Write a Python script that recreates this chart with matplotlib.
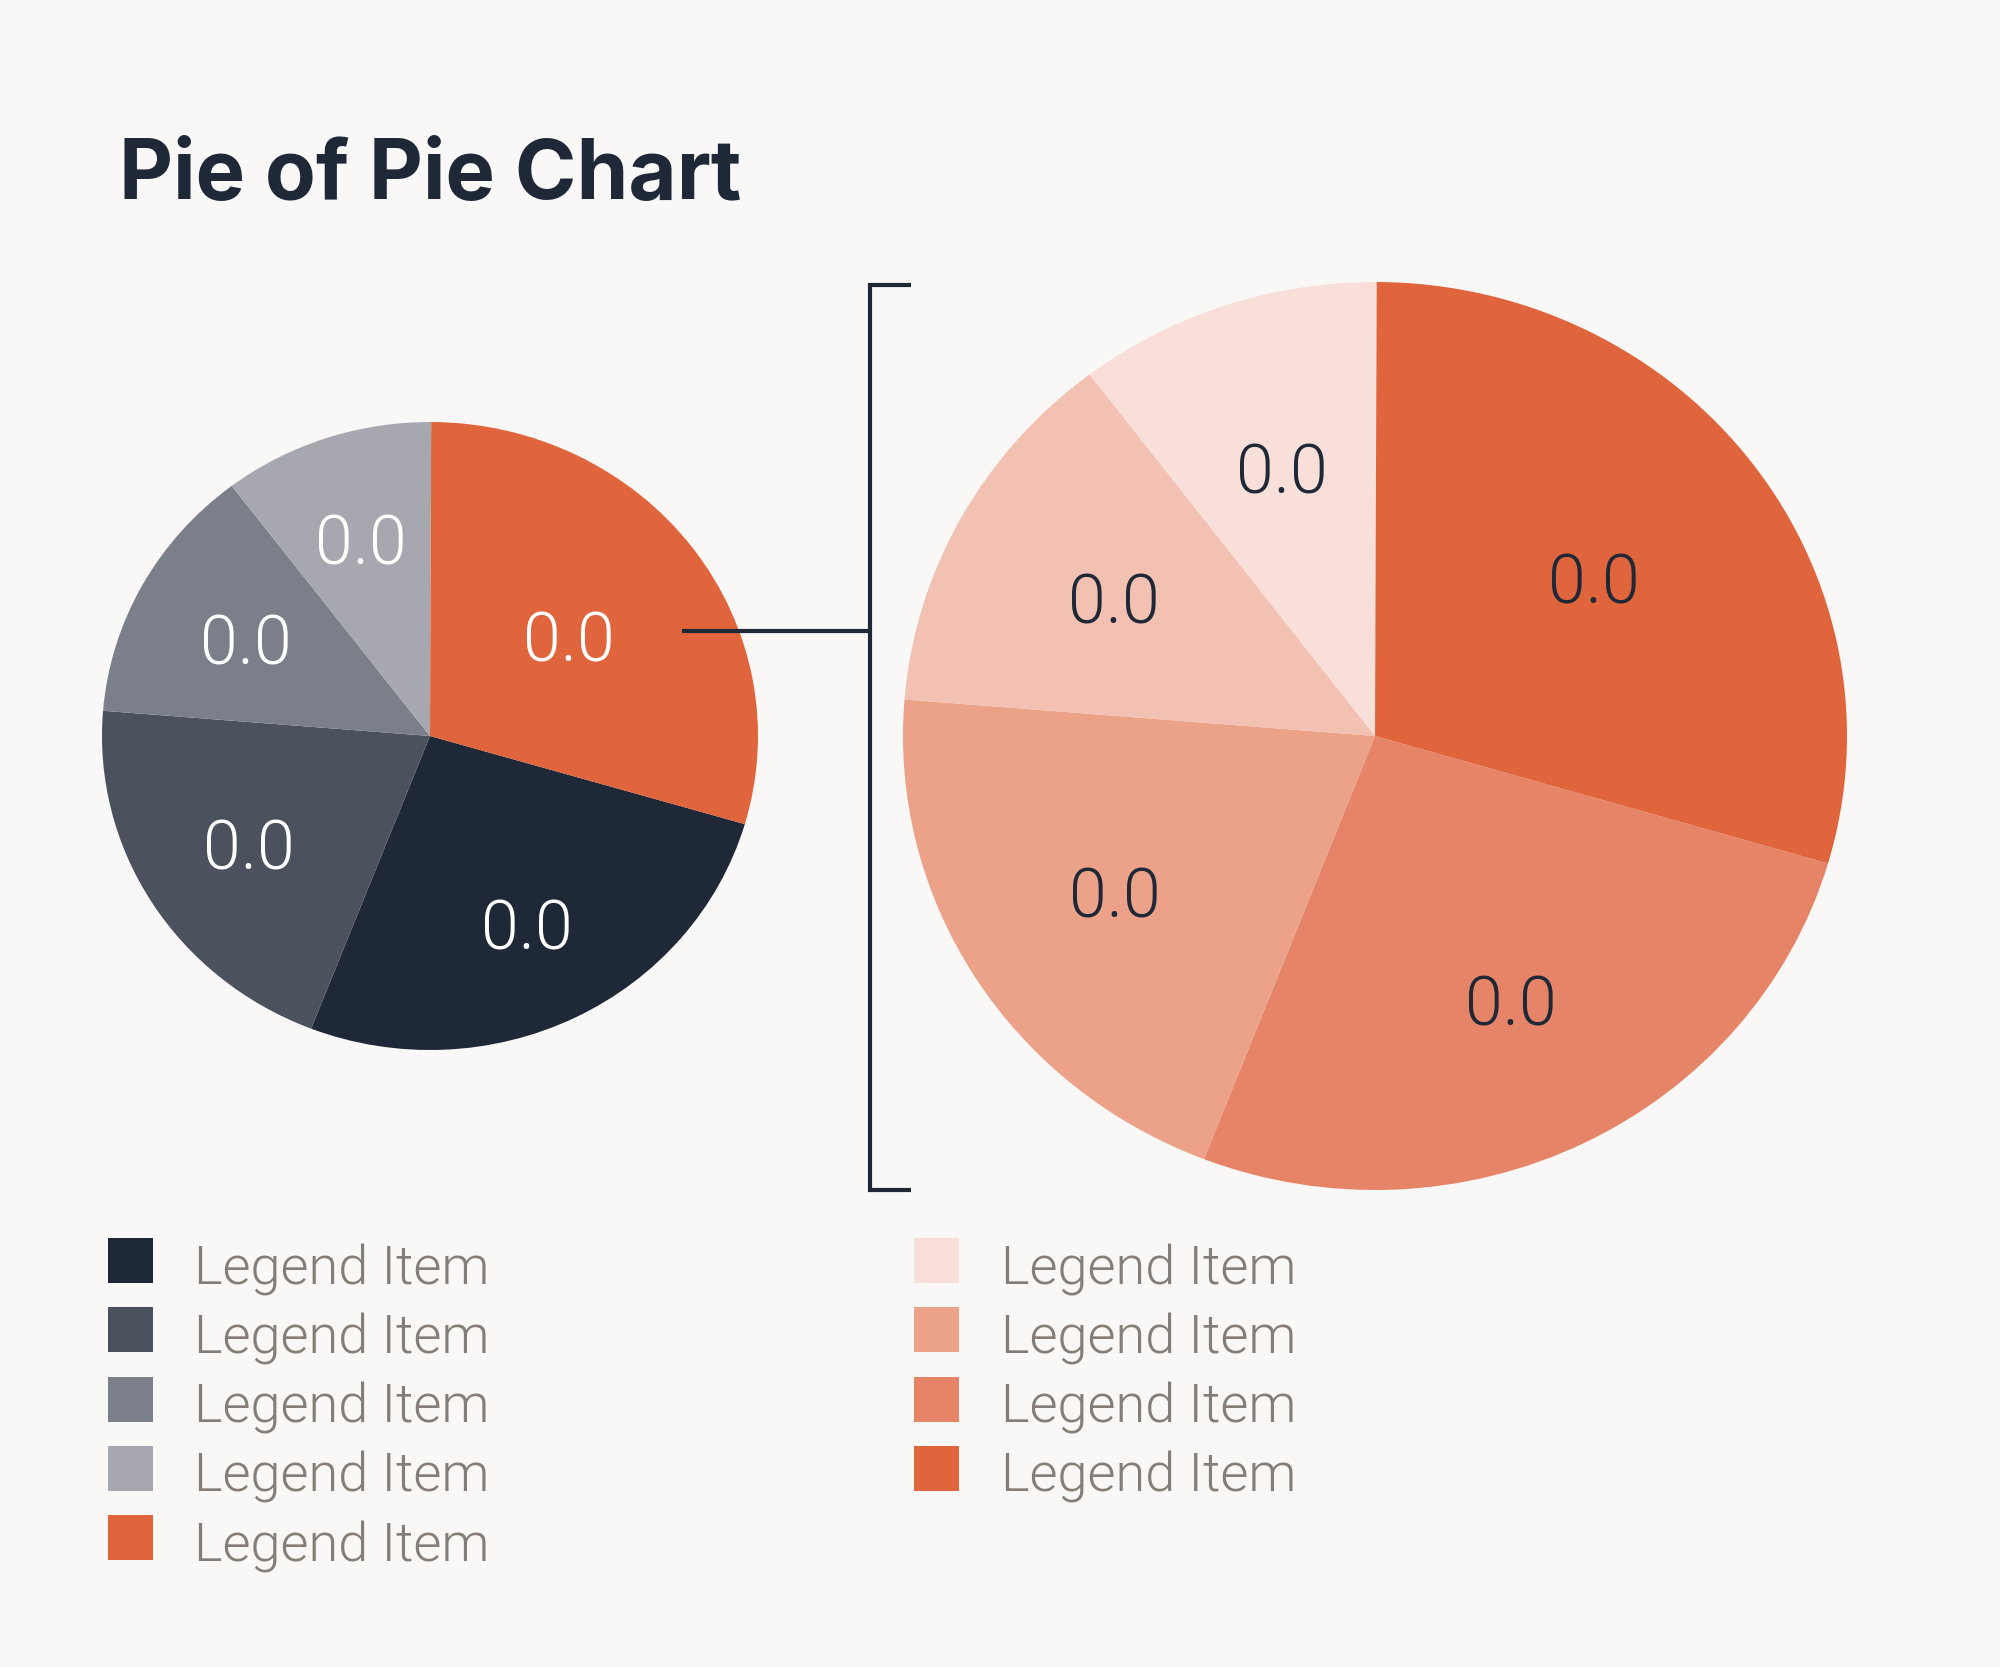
import numpy as np
import matplotlib
matplotlib.use('Agg')
import matplotlib.pyplot as plt
from matplotlib.patches import Rectangle

# data
main_values = [26.4, 20.4, 13.4, 10.4, 29.5]
main_colors = ['#1f2837', '#4b515d', '#7a7f89', '#a7a7af', '#e0643c']
main_labels = ['0.0', '0.0', '0.0', '0.0', '0.0']

detail_values = [26.4, 20.4, 13.4, 10.4, 29.5]
detail_colors = ['#e68468', '#eca189', '#f2c1b2', '#f9dfd9', '#e0643c']
detail_labels = ['0.0', '0.0', '0.0', '0.0', '0.0']

legend_left = ['Legend Item'] * 5
legend_left_colors = ['#1f2837', '#4b515d', '#7a7f89', '#a7a7af', '#e0643c']
legend_right = ['Legend Item'] * 4
legend_right_colors = ['#f9dfd9', '#eca189', '#e68468', '#e0643c']

bg = '#f9f8f6'
W, H = 2000, 1667
fig = plt.figure(figsize=(10, 8.335), dpi=200, facecolor=bg)


def add_pie(cx, cy, rx, ry, values, colors, labels, txtcolor, label_r):
    ax = fig.add_axes([(cx - rx) / W, (H - cy - ry) / H, 2 * rx / W, 2 * ry / H])
    wedges, _ = ax.pie(values, colors=colors, startangle=-16.3, counterclock=False,
                       wedgeprops=dict(linewidth=0))
    ax.set_aspect('auto')
    ax.set_xlim(-1, 1)
    ax.set_ylim(-1, 1)
    ax.axis('off')
    for w, lab, r in zip(wedges, labels, label_r):
        a = np.deg2rad((w.theta1 + w.theta2) / 2)
        ax.text(r * np.cos(a), r * np.sin(a) - 6 / ry, lab, ha='center', va='center',
                color=txtcolor, fontsize=24.5, family='Roboto', fontweight=300)
    return ax


add_pie(430, 736, 328, 314, main_values, main_colors, main_labels, 'white',
        [0.67, 0.65, 0.64, 0.66, 0.53])
add_pie(1375, 736, 472, 454, detail_values, detail_colors, detail_labels, '#1f2837',
        [0.65, 0.65, 0.63, 0.62, 0.58])

# overlay in pixel coords for connector, bracket and legend
ov = fig.add_axes([0, 0, 1, 1])
ov.set_xlim(0, W)
ov.set_ylim(H, 0)
ov.axis('off')
ov.patch.set_alpha(0)

lc = '#1f2837'
ov.plot([682, 870], [631, 631], color=lc, lw=1.5, solid_capstyle='butt')
ov.plot([911, 870, 870, 911], [285, 285, 1190, 1190], color=lc, lw=1.5,
        solid_joinstyle='miter', solid_capstyle='butt')

for col, labels, colors in [((108, 194), legend_left, legend_left_colors),
                            ((914, 1001), legend_right, legend_right_colors)]:
    for i, (lab, c) in enumerate(zip(labels, colors)):
        y0 = 1238 + i * 69.3
        ov.add_patch(Rectangle((col[0], y0), 45, 45, color=c, lw=0))
        ov.text(col[1], y0 + 46, lab, ha='left', va='baseline', color='#857e78',
                fontsize=19.5, family='Roboto', fontweight=300)

fig.text(119 / W, 1 - 199 / H, 'Pie of Pie Chart', ha='left', va='baseline',
         color='#1f2837', fontsize=30, family='Inter', fontweight='bold')

fig.savefig('out.png', dpi=200, facecolor=bg)
